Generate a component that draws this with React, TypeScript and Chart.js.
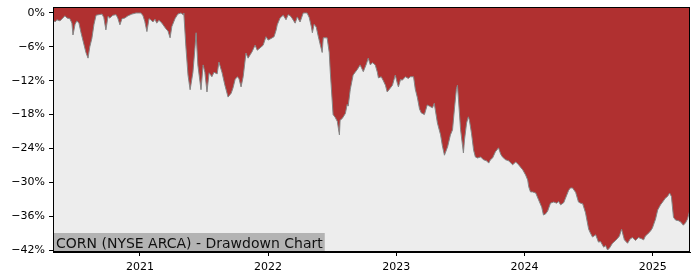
import React, { useEffect, useRef } from "react";
import { Chart, registerables } from "chart.js";

Chart.register(...registerables);

const title = "CORN (NYSE ARCA) - Drawdown Chart";

const dates = [
  "2020-04-28","2020-05-04","2020-05-09","2020-05-18","2020-05-26","2020-06-01","2020-06-07","2020-06-15","2020-06-21","2020-06-24",
  "2020-06-30","2020-07-05","2020-07-11","2020-07-17","2020-07-25","2020-07-31","2020-08-06","2020-08-11","2020-08-17","2020-08-23",
  "2020-08-29","2020-09-06","2020-09-15","2020-09-20","2020-09-26","2020-10-02","2020-10-07","2020-10-16","2020-10-25","2020-10-30",
  "2020-11-05","2020-11-11","2020-11-19","2020-11-28","2020-12-09","2020-12-21","2020-12-29","2021-01-04","2021-01-10","2021-01-15",
  "2021-01-21","2021-01-27","2021-02-01","2021-02-07","2021-02-13","2021-02-18","2021-02-24","2021-03-02","2021-03-08","2021-03-16",
  "2021-03-22","2021-03-28","2021-04-02","2021-04-11","2021-04-19","2021-04-28","2021-05-04","2021-05-06","2021-05-12","2021-05-18",
  "2021-05-24","2021-06-01","2021-06-07","2021-06-10","2021-06-15","2021-06-24","2021-06-30","2021-07-05","2021-07-11","2021-07-17",
  "2021-07-25","2021-07-31","2021-08-09","2021-08-14","2021-08-23","2021-08-31","2021-09-09","2021-09-18","2021-09-23","2021-09-29",
  "2021-10-05","2021-10-10","2021-10-16","2021-10-22","2021-10-30","2021-11-05","2021-11-11","2021-11-16","2021-11-25","2021-12-01",
  "2021-12-09","2021-12-18","2021-12-26","2022-01-01","2022-01-10","2022-01-18","2022-01-24","2022-01-27","2022-02-04","2022-02-13",
  "2022-02-21","2022-02-27","2022-03-05","2022-03-11","2022-03-19","2022-03-25","2022-04-02","2022-04-11","2022-04-17","2022-04-22",
  "2022-04-28","2022-05-04","2022-05-07","2022-05-12","2022-05-18","2022-05-24","2022-05-29","2022-06-04","2022-06-07","2022-06-18",
  "2022-06-24","2022-06-27","2022-07-05","2022-07-11","2022-07-17","2022-07-23","2022-07-25","2022-07-31","2022-08-09","2022-08-14",
  "2022-08-17","2022-08-23","2022-08-31","2022-09-06","2022-09-12","2022-09-20","2022-09-29","2022-10-08","2022-10-13","2022-10-19",
  "2022-10-25","2022-11-02","2022-11-08","2022-11-11","2022-11-19","2022-11-25","2022-12-01","2022-12-06","2022-12-15","2022-12-21",
  "2022-12-29","2023-01-04","2023-01-07","2023-01-13","2023-01-18","2023-01-27","2023-02-04","2023-02-10","2023-02-19","2023-02-24",
  "2023-03-02","2023-03-08","2023-03-13","2023-03-22","2023-03-30","2023-04-05","2023-04-14","2023-04-19","2023-04-28","2023-05-07",
  "2023-05-12","2023-05-18","2023-05-27","2023-06-04","2023-06-10","2023-06-16","2023-06-21","2023-06-24","2023-06-27","2023-07-03",
  "2023-07-11","2023-07-14","2023-07-20","2023-07-25","2023-07-28","2023-08-03","2023-08-09","2023-08-14","2023-08-20","2023-08-29",
  "2023-09-06","2023-09-15","2023-09-21","2023-09-26","2023-10-02","2023-10-10","2023-10-19","2023-10-25","2023-10-30","2023-11-08",
  "2023-11-17","2023-11-28","2023-12-07","2023-12-15","2023-12-27","2024-01-04","2024-01-10","2024-01-13","2024-01-18","2024-01-24",
  "2024-02-02","2024-02-10","2024-02-19","2024-02-24","2024-03-01","2024-03-07","2024-03-15","2024-03-24","2024-04-02","2024-04-07",
  "2024-04-13","2024-04-22","2024-04-27","2024-05-06","2024-05-11","2024-05-17","2024-05-26","2024-06-03","2024-06-09","2024-06-15",
  "2024-06-23","2024-07-02","2024-07-07","2024-07-13","2024-07-22","2024-07-30","2024-08-05","2024-08-14","2024-08-19","2024-08-25",
  "2024-08-31","2024-09-08","2024-09-17","2024-09-23","2024-09-28","2024-10-04","2024-10-09","2024-10-12","2024-10-21","2024-10-29",
  "2024-11-04","2024-11-13","2024-11-21","2024-11-30","2024-12-06","2024-12-11","2024-12-17","2024-12-26","2024-12-31","2025-01-09",
  "2025-01-15","2025-01-23","2025-01-29","2025-02-06","2025-02-12","2025-02-18","2025-02-23","2025-03-01","2025-03-07","2025-03-15",
  "2025-03-21","2025-03-29","2025-04-04","2025-04-10","2025-04-15","2025-04-17"
];

const drawdown = [
  -1.2,-1.6,-1.2,-1.4,-0.9,-0.5,-0.9,-1.0,-1.8,-3.9,
  -2.0,-1.4,-1.8,-3.5,-5.5,-7.0,-8.0,-6.0,-4.5,-2.0,
  -0.4,-0.3,-0.2,-0.8,-3.0,-0.6,-0.9,-0.4,-0.3,-0.9,
  -2.1,-1.0,-0.9,-0.5,-0.2,0,0,0,-0.5,-1.5,
  -3.3,-1.0,-1.2,-1.6,-1.1,-1.8,-1.3,-1.6,-2.1,-2.8,
  -3.2,-4.4,-2.4,-1.0,-0.2,0,-0.3,0,-6.0,-11.0,
  -13.6,-10.5,-6.0,-3.5,-9.2,-13.6,-9.2,-10.5,-14.0,-10.6,
  -11.3,-10.5,-10.8,-8.7,-10.6,-12.8,-14.9,-14.2,-13.3,-11.8,
  -11.3,-11.6,-13.1,-11.3,-7.1,-8.0,-7.4,-6.9,-5.7,-6.6,
  -6.2,-5.7,-4.2,-4.8,-4.5,-4.2,-3.0,-2.1,-0.9,-0.4,
  -1.2,-0.3,-0.5,-1.0,-1.8,-0.7,-1.6,0,0,0,
  -0.8,-2.4,-3.5,-2.0,-2.5,-4.2,-5.5,-7.0,-4.4,-4.4,
  -7.0,-10.4,-18.0,-18.5,-19.2,-21.6,-19.0,-18.7,-17.8,-16.2,
  -16.5,-13.5,-11.0,-10.5,-10.0,-9.2,-10.4,-9.0,-8.0,-9.2,
  -8.8,-9.2,-10.5,-11.5,-11.3,-12.0,-12.8,-14.0,-13.3,-12.8,
  -11.0,-12.5,-13.1,-11.8,-11.9,-11.3,-11.6,-11.3,-11.3,-13.5,
  -15.0,-17.0,-17.7,-18.0,-16.3,-16.5,-16.8,-16.0,-19.5,-21.6,
  -23.5,-25.2,-23.7,-21.6,-20.7,-16.6,-13.5,-12.8,-15.4,-20.7,
  -24.8,-22.5,-19.5,-18.4,-19.0,-21.3,-24.3,-25.5,-25.7,-25.5,
  -26.0,-26.2,-26.6,-26.0,-25.7,-24.6,-23.9,-25.0,-25.5,-26.0,
  -26.2,-26.9,-26.4,-26.9,-27.8,-28.7,-29.6,-30.8,-31.7,-31.7,
  -31.9,-33.1,-34.4,-35.8,-35.6,-35.1,-33.7,-33.5,-33.7,-33.4,
  -34.0,-33.6,-32.8,-31.4,-31.0,-31.0,-31.8,-33.5,-33.7,-33.8,
  -35.4,-38.3,-39.0,-39.7,-39.3,-40.6,-40.5,-41.5,-41.2,-42.0,
  -41.6,-40.8,-40.3,-39.9,-39.5,-38.3,-39.5,-40.2,-40.8,-40.0,
  -39.8,-40.3,-39.8,-40.0,-40.2,-39.5,-39.2,-38.6,-38.1,-36.5,
  -34.9,-34.0,-33.5,-32.8,-32.5,-31.9,-32.5,-36.2,-36.7,-36.8,
  -37.0,-37.6,-37.2,-36.5,-35.3,-35.0
];

const yearTicks = [2021, 2022, 2023, 2024, 2025];
const yTicks = [0, -6, -12, -18, -24, -30, -36, -42];

function toYear(s: string): number {
  const [y, m, d] = s.split("-").map(Number);
  const t = Date.UTC(y, m - 1, d);
  const a = Date.UTC(y, 0, 1);
  const b = Date.UTC(y + 1, 0, 1);
  return y + (t - a) / (b - a);
}

export default function App() {
  const ref = useRef<HTMLCanvasElement | null>(null);

  useEffect(() => {
    if (!ref.current) return;
    const pts = dates.map((d, i) => ({ x: toYear(d), y: drawdown[i] }));
    const font = { family: "DejaVu Sans", size: 11 };

    const bgPlugin = {
      id: "bgPlugin",
      beforeDatasetsDraw(chart: any) {
        const { ctx, chartArea: a } = chart;
        ctx.save();
        ctx.fillStyle = "#ededed";
        ctx.fillRect(a.left, a.top, a.right - a.left, a.bottom - a.top);
        ctx.restore();
      },
      afterDatasetsDraw(chart: any) {
        const { ctx, chartArea: a } = chart;
        ctx.save();
        ctx.font = "14px 'DejaVu Sans'";
        const w = ctx.measureText(title).width;
        ctx.fillStyle = "#b3b3b3";
        ctx.fillRect(a.left, a.bottom - 19, w + 5, 19);
        ctx.fillStyle = "#111";
        ctx.textBaseline = "alphabetic";
        ctx.fillText(title, a.left + 3, a.bottom - 4);
        ctx.strokeStyle = "#000";
        ctx.lineWidth = 1;
        ctx.strokeRect(a.left + 0.5, a.top + 0.5, a.right - a.left - 1, a.bottom - a.top - 1);
        ctx.restore();
      },
    };

    const chart = new Chart(ref.current, {
      type: "line",
      data: {
        datasets: [
          {
            data: pts,
            fill: "end",
            backgroundColor: "#b03030",
            borderColor: "#858585",
            borderWidth: 1,
            pointRadius: 0,
            tension: 0,
          },
        ],
      },
      options: {
        animation: false,
        responsive: false,
        maintainAspectRatio: false,
        layout: { padding: { top: 7, right: 10, left: 0, bottom: 0 } },
        plugins: { legend: { display: false }, tooltip: { enabled: false } },
        scales: {
          x: {
            type: "linear",
            min: toYear(dates[0]),
            max: toYear(dates[dates.length - 1]),
            afterBuildTicks: (s: any) => {
              s.ticks = yearTicks.map((v) => ({ value: v }));
            },
            afterFit: (s: any) => {
              s.height = 28;
              s.paddingLeft = 0;
              s.paddingRight = 0;
            },
            ticks: {
              font,
              color: "#000",
              padding: 5,
              maxRotation: 0,
              autoSkip: false,
              callback: (v: any) => String(v),
            },
            grid: { display: true, drawOnChartArea: false, drawTicks: true, tickLength: 4, color: "#000" },
            border: { display: true, color: "#000" },
          },
          y: {
            type: "linear",
            min: -42.35,
            max: 1.06,
            afterBuildTicks: (s: any) => {
              s.ticks = yTicks.map((v) => ({ value: v }));
            },
            afterFit: (s: any) => {
              s.width = 53;
              s.paddingTop = 0;
              s.paddingBottom = 0;
            },
            ticks: {
              font,
              color: "#000",
              padding: 4,
              autoSkip: false,
              callback: (v: any) => (v === 0 ? "0%" : "\u2212" + Math.abs(v) + "%"),
            },
            grid: { display: true, drawOnChartArea: false, drawTicks: true, tickLength: 4, color: "#000" },
            border: { display: true, color: "#000" },
          },
        },
      },
      plugins: [bgPlugin],
    } as any);

    return () => chart.destroy();
  }, []);

  return (
    <div style={{ position: "fixed", left: 0, top: 0, width: 700, height: 280, background: "#fff" }}>
      <canvas ref={ref} width={700} height={280} style={{ width: 700, height: 280 }} />
    </div>
  );
}
